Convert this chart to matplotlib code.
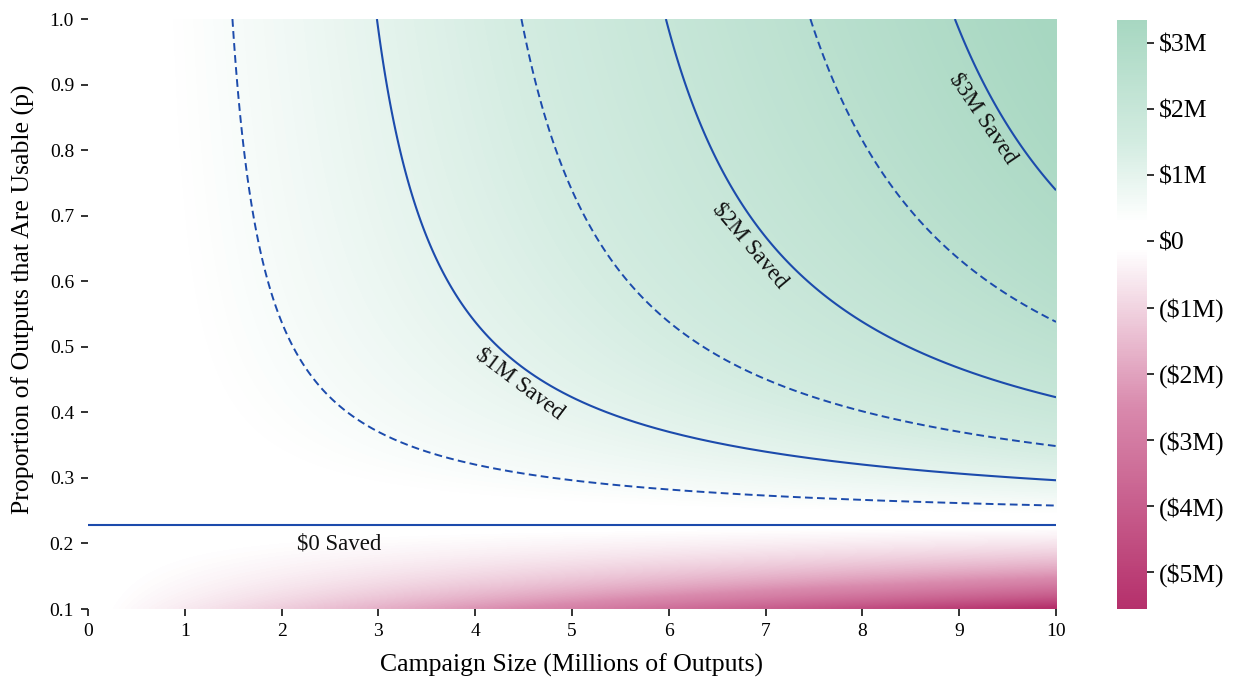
import numpy as np
import matplotlib
matplotlib.use("Agg")
import matplotlib.pyplot as plt
from matplotlib.colors import LinearSegmentedColormap, Normalize

# ---- data / model parameters ----
value_per_usable_output = 0.434   # $ saved per output when usable (millions $ per million outputs)
cost_per_output = 0.099           # $ cost per generated output
campaign_sizes = np.linspace(0, 10, 201)      # millions of outputs
usable_props = np.linspace(0.1, 1.0, 181)     # p
solid_levels = [0.0, 1.0, 2.0, 3.0]           # $M
dashed_levels = [0.5, 1.5, 2.5]               # $M
x_ticks = [0, 1, 2, 3, 4, 5, 6, 7, 8, 9, 10]
y_ticks = [0.1, 0.2, 0.3, 0.4, 0.5, 0.6, 0.7, 0.8, 0.9, 1.0]
cbar_ticks = [3, 2, 1, 0, -1, -2, -3, -4, -5]
cbar_labels = ["$3M", "$2M", "$1M", "$0", "($1M)", "($2M)", "($3M)", "($4M)", "($5M)"]
vmin, vmax = -5.56, 3.35
label_texts = ["$0 Saved", "$1M Saved", "$2M Saved", "$3M Saved"]
label_pos = [(2.6, 0.199), (4.46, 0.443), (6.84, 0.654), (9.25, 0.849)]
label_rot = [0, -37, -50, -56]

N, P = np.meshgrid(campaign_sizes, usable_props)
S = N * (value_per_usable_output - cost_per_output / P)

plt.rcParams['font.family'] = ['Liberation Serif', 'DejaVu Serif']

def frac(v):
    return (v - vmin) / (vmax - vmin)

cmap = LinearSegmentedColormap.from_list(
    "savings",
    [(0.0, "#b5306b"), (frac(-2.5), "#d98aad"), (frac(-0.12), "#ffffff"),
     (frac(0.3), "#ffffff"), (frac(1.5), "#d3ece1"), (1.0, "#a7d7c1")])

fig = plt.figure(figsize=(12.37, 6.77), dpi=100)
ax = fig.add_axes([0.0711, 0.1004, 0.7826, 0.8715])
norm = Normalize(vmin=vmin, vmax=vmax)
im = ax.imshow(S, origin='lower', aspect='auto', cmap=cmap, norm=norm,
               extent=[campaign_sizes[0], campaign_sizes[-1], usable_props[0], usable_props[-1]],
               interpolation='bilinear')

line_color = "#1c4bac"
Nc, Pc = np.meshgrid(np.linspace(0.001, 10, 61), usable_props)
Sc = Nc * (value_per_usable_output - cost_per_output / Pc)
ax.contour(Nc, Pc, Sc, levels=solid_levels, colors=line_color, linewidths=1.5, linestyles='solid')
ax.contour(Nc, Pc, Sc, levels=dashed_levels, colors=line_color, linewidths=1.4,
           linestyles=[(0, (4, 2.2))])

for t, (x, y), r in zip(label_texts, label_pos, label_rot):
    ax.text(x, y, t, fontsize=16.5, rotation=r, rotation_mode='anchor',
            ha='center', va='center', color='#111111')

ax.set_xlim(0, 10)
ax.set_ylim(0.1, 1.0)
ax.set_xticks(x_ticks)
ax.set_yticks(y_ticks)
ax.set_yticklabels([f"{v:.1f}" for v in y_ticks])
for s in ax.spines.values():
    s.set_visible(False)
ax.tick_params(axis='both', labelsize=14, length=5, width=1.3, color='#222222')
ax.tick_params(axis='x', pad=5)
ax.tick_params(axis='y', pad=5)
ax.set_xlabel("Campaign Size (Millions of Outputs)", fontsize=18.5, labelpad=10)
ax.set_ylabel("Proportion of Outputs that Are Usable (p)", fontsize=18.5, labelpad=8)
ax.yaxis.set_label_coords(-0.055, 0.525)

cax = fig.add_axes([0.903, 0.100, 0.0243, 0.871])
cb = fig.colorbar(im, cax=cax)
cb.set_ticks(cbar_ticks)
cb.set_ticklabels(cbar_labels)
cb.outline.set_visible(False)
cax.tick_params(labelsize=18.5, length=5, width=1.3, color='#222222')

fig.savefig("out.png", dpi=100)
